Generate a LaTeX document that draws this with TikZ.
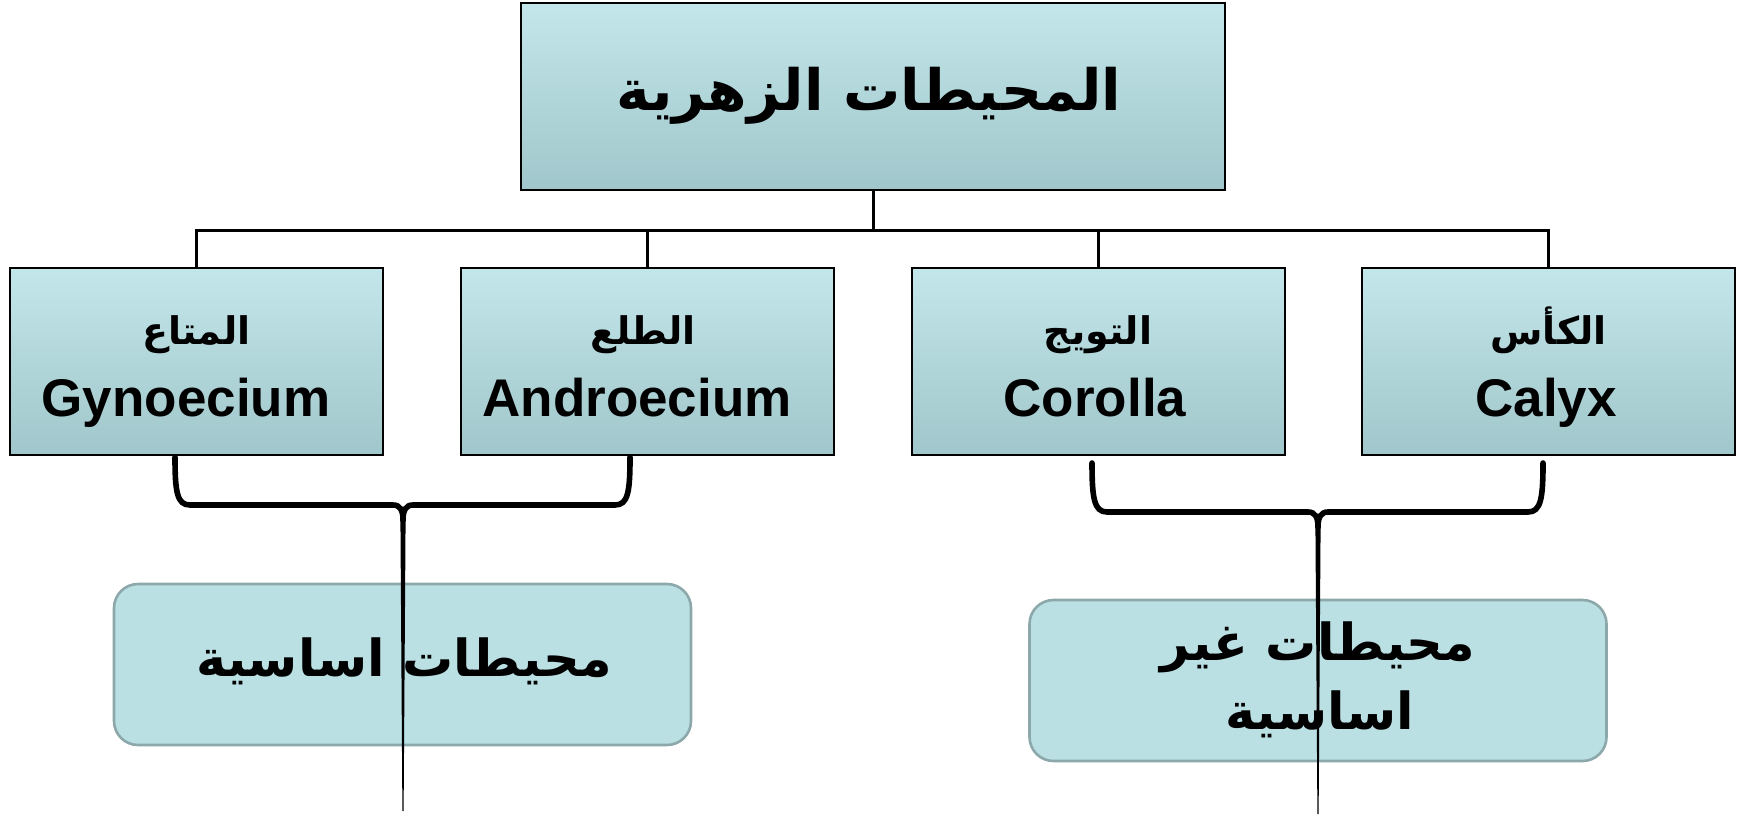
\documentclass[tikz,border=0pt]{standalone}
\usepackage{fontspec}
\setmainfont{Liberation Sans}
\newfontfamily\arabicfont[Script=Arabic]{DejaVu Sans}
\TeXXeTstate=1
\usetikzlibrary{calc}
\definecolor{boxtop}{HTML}{C3E6EA}
\definecolor{boxbot}{HTML}{A0C7CB}
\definecolor{rfill}{HTML}{BAE0E4}
\definecolor{rline}{HTML}{8CA8AB}
\tikzset{
 hbox/.style={draw=black, line width=1pt, top color=boxtop, bottom color=boxbot, minimum width=186.5pt, minimum height=93.5pt, inner sep=0pt},
 topbox/.style={hbox, minimum width=352pt},
 rbox/.style={draw=rline, line width=1.3pt, fill=rfill, rounded corners=12pt, minimum width=288.5pt, minimum height=80.5pt, inner sep=0pt},
 conn/.style={line width=1.5pt},
 bracepath/.style={line width=2.8pt, line cap=round},
 artxt/.style={font=\arabicfont\bfseries\fontsize{19}{23}\selectfont, anchor=base, inner sep=0pt},
 entxt/.style={font=\bfseries\fontsize{26.5}{30}\selectfont, anchor=base, inner sep=0pt},
 titletxt/.style={font=\arabicfont\bfseries\fontsize{28.5}{34}\selectfont, anchor=base, inner sep=0pt},
 bigtxt/.style={font=\arabicfont\bfseries\fontsize{25.5}{30}\selectfont, anchor=base, inner sep=0pt},
}
\begin{document}
\begin{tikzpicture}[x=0.5pt,y=-0.5pt]
\useasboundingbox (0,0) rectangle (1754,815);
% boxes
\node[topbox] (top) at (873,96.5) {};
\node[hbox] (gyn) at (196.5,361.5) {};
\node[hbox] (and) at (647,361.5) {};
\node[hbox] (cor) at (1098,361.5) {};
\node[hbox] (cal) at (1548.5,361.5) {};
\node[rbox] (ess) at (402.5,664.5) {};
\node[rbox] (ness) at (1318,680.5) {};
% texts
\node[titletxt] (ttl) at (869,110) {\beginR المحيطات الزهرية\endR};
\node[artxt] (gynA) at (196.5,344) {\beginR المتاع\endR};
\node[entxt] (gynE) at (186,416) {Gynoecium};
\node[artxt] (andA) at (643,344) {\beginR الطلع\endR};
\node[entxt] (andE) at (637,416) {Androecium};
\node[artxt] (corA) at (1098,344) {\beginR التويج\endR};
\node[entxt] (corE) at (1095,416) {Corolla};
\node[artxt] (calA) at (1548.5,344) {\beginR الكأس\endR};
\node[entxt] (calE) at (1546,416) {Calyx};
\node[bigtxt] (essT) at (404,676) {\beginR محيطات اساسية\endR};
\node[bigtxt] (nessT1) at (1318,660) {\beginR محيطات غير\endR};
\node[bigtxt] (nessT2) at (1320,729) {\beginR اساسية\endR};
% connectors
\coordinate (bus) at (873,230);
\draw[conn] (top.south) -- (bus);
\draw[conn] (bus) -| (gyn.north);
\draw[conn] (bus) -| (and.north);
\draw[conn] (bus) -| (cor.north);
\draw[conn] (bus) -| (cal.north);
% left brace
\coordinate (la) at (175,457);
\coordinate (lb) at (630,457);
\coordinate (lc) at (403,520);
\coordinate (lt) at (403,811);
\draw[bracepath] (la) .. controls (175,492) and (177,505) .. (190,505) -- (393,505) .. controls (400,505) and (403,510) .. (lc);
\draw[bracepath] (lb) .. controls (630,492) and (628,505) .. (615,505) -- (413,505) .. controls (406,505) and (403,510) .. (lc);
\fill ($(lc)+(-2.6,-2)$) -- ($(lc)+(2.6,-2)$) -- ($(lt)+(0.6,0)$) -- ($(lt)+(-0.6,0)$) -- cycle;
% right brace
\coordinate (ra) at (1092,463);
\coordinate (rb) at (1543,463);
\coordinate (rc) at (1318,527);
\coordinate (rt) at (1318,814);
\draw[bracepath] (ra) .. controls (1092,498) and (1094,512) .. (1107,512) -- (1308,512) .. controls (1315,512) and (1318,517) .. (rc);
\draw[bracepath] (rb) .. controls (1543,498) and (1541,512) .. (1528,512) -- (1328,512) .. controls (1321,512) and (1318,517) .. (rc);
\fill ($(rc)+(-2.6,-2)$) -- ($(rc)+(2.6,-2)$) -- ($(rt)+(0.6,0)$) -- ($(rt)+(-0.6,0)$) -- cycle;
\end{tikzpicture}
\end{document}
